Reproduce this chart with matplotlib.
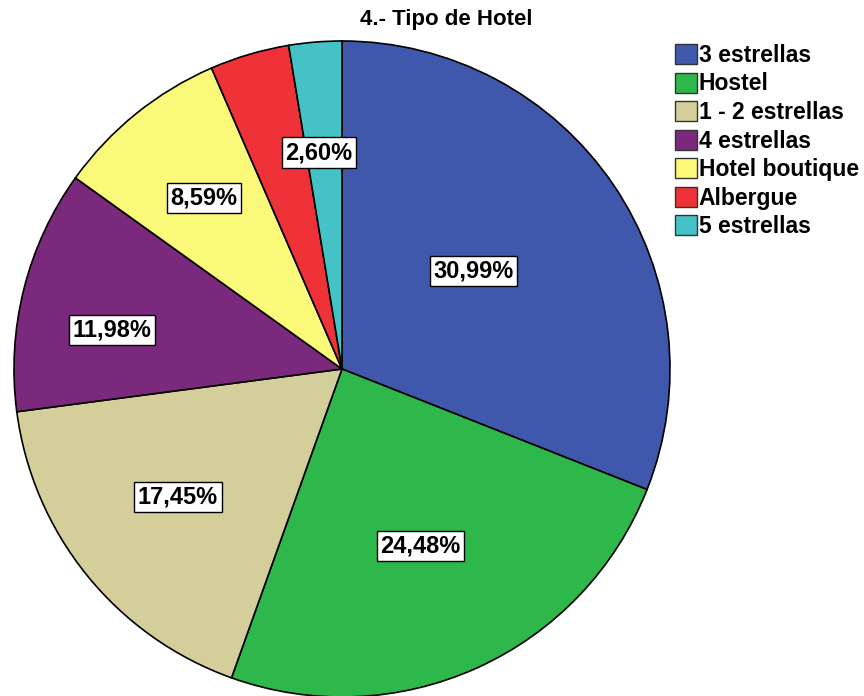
import matplotlib.pyplot as plt
from matplotlib.patches import Patch

plt.rcParams["font.family"] = ["Liberation Sans", "DejaVu Sans"]

TITLE = "4.- Tipo de Hotel"
categories = ["3 estrellas", "Hostel", "1 - 2 estrellas", "4 estrellas",
              "Hotel boutique", "Albergue", "5 estrellas"]
percent = [30.99, 24.48, 17.45, 11.98, 8.59, 3.91, 2.60]
show_label = [True, True, True, True, True, False, True]

COLORS = ["#3F58AB", "#2EB74B", "#D4CE9A", "#7B297C", "#FBF97A", "#EE3238", "#45C2C6"]
# label centres relative to the pie (radius 1)
LABEL_POS = [(0.40, 0.30), (0.24, -0.54), (-0.50, -0.39), (-0.70, 0.12),
             (-0.42, 0.52), (0.0, 0.0), (-0.07, 0.66)]

fig = plt.figure(figsize=(8.64, 6.96), dpi=100)
ax = fig.add_axes([14 / 864, -1 / 696, 656 / 864, 656 / 696])
wedges, _ = ax.pie(
    percent,
    colors=COLORS,
    startangle=90,
    counterclock=False,
    radius=1,
    wedgeprops=dict(edgecolor="black", linewidth=1.2),
)
ax.set_xlim(-1, 1)
ax.set_ylim(-1, 1)
ax.set_aspect("equal")
ax.axis("off")

for val, show, (x, y) in zip(percent, show_label, LABEL_POS):
    if not show:
        continue
    ax.text(x, y, f"{val:.2f}%".replace(".", ","), ha="center", va="center",
            fontsize=17, fontweight="bold",
            bbox=dict(boxstyle="square,pad=0.15", facecolor="white",
                      edgecolor="black", linewidth=1))

fig.text(446 / 864, 1 - 20 / 696, TITLE, ha="center", va="center",
         fontsize=16, fontweight="bold")

handles = [Patch(facecolor=c, edgecolor="#333333", linewidth=1) for c in COLORS]
fig.legend(handles, categories, loc="upper left",
           bbox_to_anchor=(675 / 864, 1 - 44 / 696), frameon=False,
           prop=dict(size=16.5, weight="bold"), handlelength=0.95, handleheight=0.95,
           handletextpad=0.08, labelspacing=0.24, borderaxespad=0, borderpad=0)

fig.savefig("out.png", dpi=100)
